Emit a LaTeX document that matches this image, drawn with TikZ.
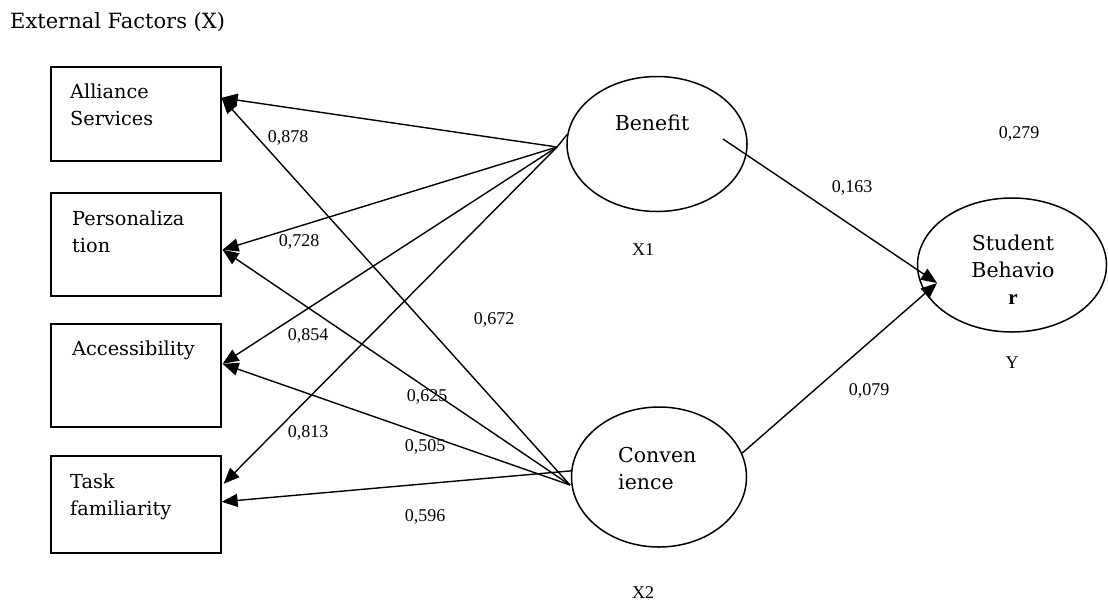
\documentclass[tikz,border=0pt]{standalone}
\usepackage{fontspec}
\setmainfont{Liberation Serif}
\newfontfamily\gfont{DejaVu Serif}
\usetikzlibrary{arrows.meta,shapes.geometric,calc}
\begin{document}
\begin{tikzpicture}[x=1pt,y=-1pt,
  box/.style={draw,line width=1.6pt,inner sep=0pt,anchor=north west,minimum width=170pt},
  ell/.style={draw,ellipse,line width=1.5pt,inner sep=0pt},
  arr/.style={line width=1.4pt,-{Triangle[length=16pt,width=13pt]}},
  ln/.style={line width=1.4pt},
  num/.style={font=\fontsize{18}{20}\selectfont,inner sep=0pt},
  btxt/.style={font=\gfont\fontsize{19.3}{27}\selectfont,anchor=base west,inner sep=0pt},
  etxt/.style={font=\gfont\fontsize{20.5}{27}\selectfont,inner sep=0pt},
]
\useasboundingbox (0,0) rectangle (1108,603);

\node[anchor=base west,inner sep=0pt,font=\gfont\fontsize{21}{25}\selectfont] (title) at (10,28) {External Factors (X)};

% boxes
\node[box,minimum height=94pt]  (al) at (50,66)  {};
\node[box,minimum height=103pt] (pe) at (50,192) {};
\node[box,minimum height=103pt] (ac) at (50,323) {};
\node[box,minimum height=97pt]  (ta) at (50,455) {};

\node[btxt] (alt) at (70,98)  {\parbox[t]{140pt}{Alliance\\Services}};
\node[btxt] (pet) at (72,225) {\parbox[t]{140pt}{Personaliza\\tion}};
\node[btxt] (act) at (72,355) {Accessibility};
\node[btxt] (tat) at (70,488) {\parbox[t]{140pt}{Task\\familiarity}};

% ellipses
\node[ell,minimum width=180pt,minimum height=135pt] (ben) at (657,144) {};
\node[ell,minimum width=175pt,minimum height=140pt] (con) at (659,477) {};
\node[ell,minimum width=189pt,minimum height=134pt] (stu) at (1012,265) {};

\node[etxt,anchor=base] (bent) at (652,130) {Benefit};
\node[etxt,anchor=base west] (cont) at (618,462) {\parbox[t]{100pt}{Conven\\ience}};
\node[etxt,anchor=base] (stut) at (1013,250) {\parbox[t]{120pt}{\centering Student\\Behavio\\{\rmfamily\bfseries\fontsize{21}{27}\selectfont r}}};

% variable labels
\node[num] (x1) at (643,250) {X1};
\node[num] (x2) at (643,593) {X2};
\node[num] (yy) at (1012,363) {Y};

% connectors
\coordinate (b0) at (557,147);
\coordinate (c0) at (570,485);
\draw[ln] (ben.174) -- (b0);

\draw[arr] (b0) -- ($(al.east)+(0,-16)$);
\draw[arr] (c0) -- ($(al.east)+(0,-16)$);
\draw[arr] (b0) -- ($(pe.east)+(1,5.5)$);
\draw[arr] (c0) -- ($(pe.east)+(1,5.5)$);
\draw[arr] (b0) -- ($(ac.east)+(1,-11.5)$);
\draw[arr] (c0) -- ($(ac.east)+(1,-11.5)$);
\draw[arr] (b0) -- ($(ta.east)+(2,-20.5)$);
\draw[arr] (con.176) -- ($(ta.east)+(0,-2.5)$);

\draw[arr] ($(ben.center)+(66,-5)$) -- ($(stu.center)+(-75,18)$);
\draw[arr] (con.16) -- ($(stu.center)+(-75,18)$);

% path coefficients
\node[num] (n878) at (288,138) {0,878};
\node[num] (n728) at (299,242) {0,728};
\node[num] (n854) at (308,336) {0,854};
\node[num] (n672) at (494,320) {0,672};
\node[num] (n625) at (427,397) {0,625};
\node[num] (n813) at (308,433) {0,813};
\node[num] (n505) at (425,447) {0,505};
\node[num] (n596) at (425,517) {0,596};
\node[num] (n163) at (852,188) {0,163};
\node[num] (n279) at (1019,134) {0,279};
\node[num] (n079) at (869,391) {0,079};
\end{tikzpicture}
\end{document}
